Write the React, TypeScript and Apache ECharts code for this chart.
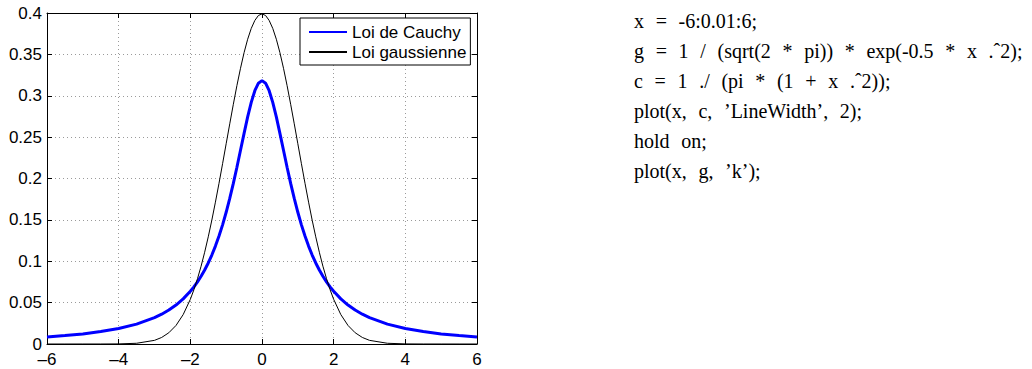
import React, { useEffect, useRef } from "react";
import * as echarts from "echarts";

const xValues = [
  -6, -5.5, -5, -4.5, -4, -3.5, -3, -2.8, -2.6, -2.4, -2.2, -2, -1.9, -1.8, -1.7, -1.6, -1.5, -1.4, -1.3,
  -1.2, -1.1, -1, -0.9, -0.8, -0.7, -0.6, -0.5, -0.4, -0.3, -0.2, -0.1, 0, 0.1, 0.2, 0.3, 0.4, 0.5, 0.6,
  0.7, 0.8, 0.9, 1, 1.1, 1.2, 1.3, 1.4, 1.5, 1.6, 1.7, 1.8, 1.9, 2, 2.2, 2.4, 2.6, 2.8, 3, 3.5, 4, 4.5, 5,
  5.5, 6,
];

const cauchyValues = [
  0.0086, 0.0102, 0.0122, 0.015, 0.0187, 0.024, 0.0318, 0.036, 0.041, 0.0471, 0.0545, 0.0637, 0.0691,
  0.0751, 0.0818, 0.0894, 0.0979, 0.1075, 0.1183, 0.1305, 0.144, 0.1592, 0.1759, 0.1941, 0.2136, 0.2341,
  0.2546, 0.2744, 0.292, 0.3061, 0.3152, 0.3183, 0.3152, 0.3061, 0.292, 0.2744, 0.2546, 0.2341, 0.2136,
  0.1941, 0.1759, 0.1592, 0.144, 0.1305, 0.1183, 0.1075, 0.0979, 0.0894, 0.0818, 0.0751, 0.0691, 0.0637,
  0.0545, 0.0471, 0.041, 0.036, 0.0318, 0.024, 0.0187, 0.015, 0.0122, 0.0102, 0.0086,
];

const gaussValues = [
  0, 0, 0.0000015, 0.000016, 0.00013, 0.00087, 0.0044, 0.0079, 0.0136, 0.0224, 0.0355, 0.054, 0.0656,
  0.079, 0.094, 0.1109, 0.1295, 0.1497, 0.1714, 0.1942, 0.2179, 0.242, 0.2661, 0.2897, 0.3123, 0.3332,
  0.3521, 0.3683, 0.3814, 0.391, 0.397, 0.3989, 0.397, 0.391, 0.3814, 0.3683, 0.3521, 0.3332, 0.3123,
  0.2897, 0.2661, 0.242, 0.2179, 0.1942, 0.1714, 0.1497, 0.1295, 0.1109, 0.094, 0.079, 0.0656, 0.054,
  0.0355, 0.0224, 0.0136, 0.0079, 0.0044, 0.00087, 0.00013, 0.000016, 0.0000015, 0, 0,
];

const seriesNames = ["Loi de Cauchy", "Loi gaussienne"];

const codeLines = [
  "x = -6:0.01:6;",
  "g = 1 / (sqrt(2 * pi)) * exp(-0.5 * x .\u02C62);",
  "c = 1 ./ (pi * (1 + x .\u02C62));",
  "plot(x, c, \u2019LineWidth\u2019, 2);",
  "hold on;",
  "plot(x, g, \u2019k\u2019);",
];

const sans = "'Liberation Sans', Arial, Helvetica, sans-serif";
const serif = "'Liberation Serif', 'Times New Roman', serif";

export default function App() {
  const ref = useRef<HTMLDivElement>(null);

  useEffect(() => {
    document.body.style.margin = "0";
    const chart = echarts.init(ref.current!, null, { renderer: "svg" });

    const cauchyData = xValues.map((x, i) => [x, cauchyValues[i]]);
    const gaussData = xValues.map((x, i) => [x, gaussValues[i]]);

    const gridLine = { show: true, lineStyle: { color: "#9a9a9a", type: [1, 3], width: 1 } };
    const axisLine = { show: true, onZero: false, lineStyle: { color: "#000", width: 1 } };
    const tick = { show: true, inside: true, length: 5, lineStyle: { color: "#000", width: 1 } };

    const xBase = { type: "value", min: -6, max: 6, interval: 2 };
    const yBase = { type: "value", min: 0, max: 0.4, interval: 0.05 };

    const option: any = {
      animation: false,
      backgroundColor: "#fff",
      grid: { left: 47, top: 13, right: 555, bottom: 25, containLabel: false },
      xAxis: [
        {
          ...xBase,
          position: "bottom",
          axisLine,
          axisTick: tick,
          splitLine: gridLine,
          axisLabel: {
            color: "#000",
            fontSize: 17,
            lineHeight: 14,
            fontFamily: sans,
            margin: 8,
            formatter: (v: number) => (v < 0 ? "\u2013" + Math.abs(v) : String(v)),
          },
        },
        {
          ...xBase,
          position: "top",
          axisLine,
          axisTick: tick,
          splitLine: { show: false },
          axisLabel: { show: false },
        },
      ],
      yAxis: [
        {
          ...yBase,
          position: "left",
          axisLine,
          axisTick: tick,
          splitLine: gridLine,
          axisLabel: {
            color: "#000",
            fontSize: 17,
            lineHeight: 14,
            fontFamily: sans,
            margin: 5,
            formatter: (v: number) => String(+v.toFixed(2)),
          },
        },
        {
          ...yBase,
          position: "right",
          axisLine,
          axisTick: tick,
          splitLine: { show: false },
          axisLabel: { show: false },
        },
      ],
      legend: {
        left: 300,
        top: 18,
        orient: "vertical",
        data: seriesNames,
        padding: [4, 4, 3, 8],
        itemWidth: 38,
        itemHeight: 20,
        itemGap: 0,
        borderColor: "#000",
        borderWidth: 1,
        borderRadius: 0,
        backgroundColor: "#fff",
        itemStyle: { opacity: 0, borderWidth: 0 },
        textStyle: { color: "#000", fontSize: 17, fontFamily: sans, lineHeight: 20 },
        selectedMode: false,
      },
      series: [
        {
          name: seriesNames[0],
          type: "line",
          data: cauchyData,
          symbol: "none",
          showSymbol: false,
          lineStyle: { color: "#0000ff", width: 3 },
          itemStyle: { color: "#0000ff" },
          z: 3,
        },
        {
          name: seriesNames[1],
          type: "line",
          data: gaussData,
          symbol: "none",
          showSymbol: false,
          lineStyle: { color: "#000", width: 1 },
          itemStyle: { color: "#000" },
          z: 4,
        },
      ],
      graphic: codeLines.map((line, i) => ({
        type: "text",
        left: 634,
        top: 11 + i * 30,
        style: {
          text: line.replace(/ /g, "\u2002\u200A"),
          fill: "#000",
          fontSize: 20,
          fontFamily: serif,
        },
      })),
    };

    chart.setOption(option);
    return () => chart.dispose();
  }, []);

  return (
    <div
      ref={ref}
      style={{ position: "absolute", left: 0, top: 0, width: 1032, height: 369 }}
    />
  );
}
